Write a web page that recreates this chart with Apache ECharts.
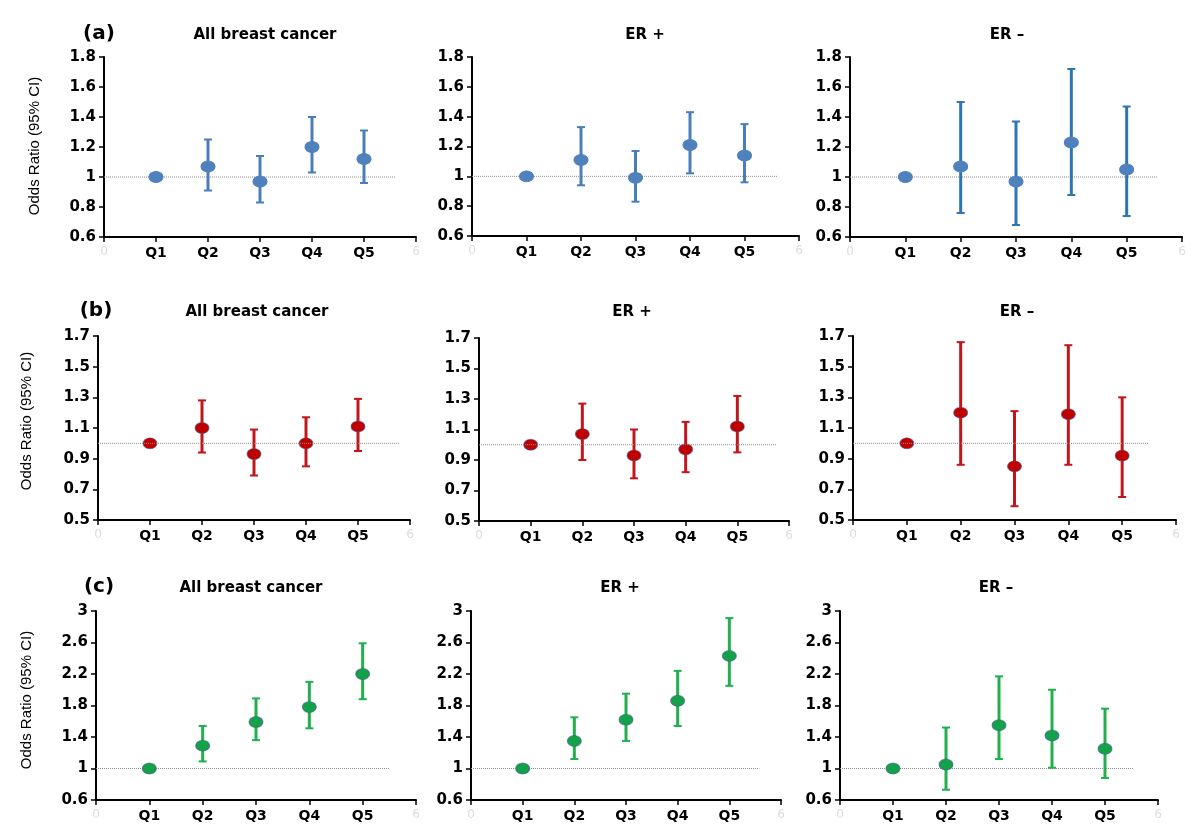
<!DOCTYPE html>
<html>
<head>
<meta charset="utf-8">
<script src="https://cdn.jsdelivr.net/npm/echarts@6/dist/echarts.min.js"></script>
<style>html,body{margin:0;padding:0;background:#fff}#c{width:1200px;height:834px}</style>
</head>
<body>
<div id="c"></div>
<script>
// ---------- DATA ----------
const categories = ['Q1', 'Q2', 'Q3', 'Q4', 'Q5'];
const panelTitles = ['All breast cancer', 'ER +', 'ER \u2013'];
const rowLabels = ['(a)', '(b)', '(c)'];
const yAxisTitle = 'Odds Ratio (95% CI)';

// y-axis tick settings per row: [min, max, step]
const aYTicks = [0.6, 1.8, 0.2];
const bYTicks = [0.5, 1.7, 0.2];
const cYTicks = [0.6, 3.0, 0.4];
const xEndLabels = ['0', '6'];

// (a)
const aAllOR = [1.00, 1.07, 0.97, 1.20, 1.12];
const aAllLower = [null, 0.91, 0.83, 1.03, 0.96];
const aAllUpper = [null, 1.25, 1.14, 1.40, 1.31];
const aERposOR = [1.00, 1.11, 0.99, 1.21, 1.14];
const aERposLower = [null, 0.94, 0.83, 1.02, 0.96];
const aERposUpper = [null, 1.33, 1.17, 1.43, 1.35];
const aERnegOR = [1.00, 1.07, 0.97, 1.23, 1.05];
const aERnegLower = [null, 0.76, 0.68, 0.88, 0.74];
const aERnegUpper = [null, 1.50, 1.37, 1.72, 1.47];
// (b)
const bAllOR = [1.00, 1.10, 0.93, 1.00, 1.11];
const bAllLower = [null, 0.94, 0.79, 0.85, 0.95];
const bAllUpper = [null, 1.28, 1.09, 1.17, 1.29];
const bERposOR = [1.00, 1.07, 0.93, 0.97, 1.12];
const bERposLower = [null, 0.90, 0.78, 0.82, 0.95];
const bERposUpper = [null, 1.27, 1.10, 1.15, 1.32];
const bERnegOR = [1.00, 1.20, 0.85, 1.19, 0.92];
const bERnegLower = [null, 0.86, 0.59, 0.86, 0.65];
const bERnegUpper = [null, 1.66, 1.21, 1.64, 1.30];
// (c)
const cAllOR = [1.00, 1.29, 1.59, 1.78, 2.20];
const cAllLower = [null, 1.09, 1.36, 1.51, 1.88];
const cAllUpper = [null, 1.54, 1.89, 2.10, 2.59];
const cERposOR = [1.00, 1.35, 1.62, 1.86, 2.43];
const cERposLower = [null, 1.12, 1.35, 1.54, 2.05];
const cERposUpper = [null, 1.65, 1.95, 2.24, 2.91];
const cERnegOR = [1.00, 1.05, 1.55, 1.42, 1.25];
const cERnegLower = [null, 0.73, 1.12, 1.01, 0.88];
const cERnegUpper = [null, 1.52, 2.17, 2.00, 1.76];

const refValue = 1;

// ---------- LAYOUT / STYLE ----------
const panels = [
  {or: aAllOR, lo: aAllLower, hi: aAllUpper, y: aYTicks, grid: {left: 104, top: 57, width: 312, height: 180}, bar: '#4a7ebb', dot: '#4f81bd', refEnd: 5.6, refTop: false},
  {or: aERposOR, lo: aERposLower, hi: aERposUpper, y: aYTicks, grid: {left: 472, top: 57, width: 327, height: 179}, bar: '#4a7ebb', dot: '#4f81bd', refEnd: 5.6, refTop: false},
  {or: aERnegOR, lo: aERnegLower, hi: aERnegUpper, y: aYTicks, grid: {left: 850, top: 57, width: 332, height: 180}, bar: '#2e75b6', dot: '#4f81bd', refEnd: 5.55, refTop: false},
  {or: bAllOR, lo: bAllLower, hi: bAllUpper, y: bYTicks, grid: {left: 98, top: 336, width: 312, height: 184}, bar: '#c0161c', dot: '#c00000', refEnd: 5.8, refTop: true},
  {or: bERposOR, lo: bERposLower, hi: bERposUpper, y: bYTicks, grid: {left: 479, top: 338, width: 310, height: 183}, bar: '#c0161c', dot: '#c00000', refEnd: 5.76, refTop: true},
  {or: bERnegOR, lo: bERnegLower, hi: bERnegUpper, y: bYTicks, grid: {left: 853, top: 336, width: 323, height: 184}, bar: '#c0161c', dot: '#c00000', refEnd: 5.5, refTop: true},
  {or: cAllOR, lo: cAllLower, hi: cAllUpper, y: cYTicks, grid: {left: 96, top: 611, width: 320, height: 189}, bar: '#22b04f', dot: '#13a14a', refEnd: 5.5, refTop: false},
  {or: cERposOR, lo: cERposLower, hi: cERposUpper, y: cYTicks, grid: {left: 471, top: 611, width: 310, height: 189}, bar: '#22b04f', dot: '#13a14a', refEnd: 5.58, refTop: false},
  {or: cERnegOR, lo: cERnegLower, hi: cERnegUpper, y: cYTicks, grid: {left: 840, top: 611, width: 318, height: 189}, bar: '#22b04f', dot: '#13a14a', refEnd: 5.53, refTop: false}
];

const tickFont = 'DejaVu Sans';
const grids = [], xAxes = [], yAxes = [], series = [];

panels.forEach((p, i) => {
  grids.push(Object.assign({containLabel: false}, p.grid));
  xAxes.push({
    type: 'value', gridIndex: i, min: 0, max: 6, interval: 1,
    axisLine: {lineStyle: {color: '#000', width: 2}},
    axisTick: {show: true, length: 5, lineStyle: {color: '#000', width: 1.5}},
    splitLine: {show: false},
    axisLabel: {
      showMinLabel: true, showMaxLabel: true, margin: 9,
      formatter: v => (v >= 1 && v <= categories.length) ? '{q|' + categories[v - 1] + '}' : '{f|' + (v === 0 ? xEndLabels[0] : xEndLabels[1]) + '}',
      rich: {
        q: {fontFamily: tickFont, fontWeight: 'bold', fontSize: 14, color: '#000'},
        f: {fontFamily: tickFont, fontSize: 12, color: '#dcdcdc'}
      }
    }
  });
  yAxes.push({
    type: 'value', gridIndex: i, min: p.y[0], max: p.y[1], interval: p.y[2],
    axisLine: {show: true, lineStyle: {color: '#000', width: 2}},
    axisTick: {show: true, length: 5, lineStyle: {color: '#000', width: 1.5}},
    splitLine: {show: false},
    axisLabel: {
      showMinLabel: true, showMaxLabel: true, margin: 8,
      fontFamily: tickFont, fontWeight: 'bold', fontSize: 15, color: '#000',
      formatter: v => String(Math.round(v * 10) / 10)
    }
  });

  const refSeries = {
    type: 'line', xAxisIndex: i, yAxisIndex: i, silent: true, symbol: 'none',
    data: [[0, refValue], [p.refEnd, refValue]],
    lineStyle: {type: 'dotted', color: '#8c8c8c', width: 1},
    z: p.refTop ? 5 : 1
  };
  const errData = [];
  p.or.forEach((v, k) => {
    if (p.lo[k] != null && p.hi[k] != null) errData.push([k + 1, p.lo[k], p.hi[k]]);
  });
  const barColor = p.bar;
  const errSeries = {
    type: 'custom', xAxisIndex: i, yAxisIndex: i, silent: true, z: 2,
    data: errData,
    encode: {x: 0, y: [1, 2]},
    renderItem: function (params, api) {
      const x = api.value(0);
      const a = api.coord([x, api.value(1)]);
      const b = api.coord([x, api.value(2)]);
      const w = 4;
      return {
        type: 'group',
        children: [
          {type: 'line', shape: {x1: a[0], y1: a[1], x2: b[0], y2: b[1]}, style: {stroke: barColor, lineWidth: 3}},
          {type: 'line', shape: {x1: a[0] - w, y1: a[1], x2: a[0] + w, y2: a[1]}, style: {stroke: barColor, lineWidth: 2}},
          {type: 'line', shape: {x1: b[0] - w, y1: b[1], x2: b[0] + w, y2: b[1]}, style: {stroke: barColor, lineWidth: 2}}
        ]
      };
    }
  };
  const dotSeries = {
    type: 'scatter', xAxisIndex: i, yAxisIndex: i, silent: true, z: 3,
    symbol: 'circle', symbolSize: [14, 11],
    data: p.or.map((v, k) => [k + 1, v]),
    itemStyle: {color: p.dot, borderColor: i >= 3 ? 'rgba(70,90,140,0.6)' : p.dot, borderWidth: 1, opacity: 1}
  };
  series.push(refSeries, errSeries, dotSeries);
});

// Texts
const graphics = [];
const rowTitleY = [35, 312, 588];
const titleX = [[265, 645, 1007], [257, 632, 1017], [251, 620, 996]];
const rowLabelX = [99, 96, 99];
const yNameY = [146, 421, 700];
const yNameX = [35, 27, 27];
for (let r = 0; r < 3; r++) {
  graphics.push({type: 'text', x: rowLabelX[r], y: rowTitleY[r] - 1,
    style: {text: rowLabels[r], font: 'bold 20px "DejaVu Sans"', fill: '#000', textAlign: 'center', textVerticalAlign: 'middle'}});
  for (let c = 0; c < 3; c++) {
    graphics.push({type: 'text', x: titleX[r][c], y: rowTitleY[r],
      style: {text: panelTitles[c], font: 'bold 15px "DejaVu Sans"', fill: '#000', textAlign: 'center', textVerticalAlign: 'middle'}});
  }
  graphics.push({type: 'text', x: yNameX[r], y: yNameY[r], rotation: Math.PI / 2,
    style: {text: yAxisTitle, font: '15px "Liberation Sans"', fill: '#000', textAlign: 'center', textVerticalAlign: 'middle'}});
}

const chart = echarts.init(document.getElementById('c'), null, {renderer: 'canvas'});
chart.setOption({
  animation: false,
  backgroundColor: '#fff',
  grid: grids,
  xAxis: xAxes,
  yAxis: yAxes,
  series: series,
  graphic: graphics
});
</script>
</body>
</html>
